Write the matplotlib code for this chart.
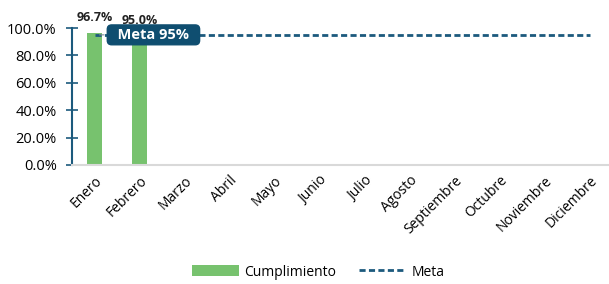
import matplotlib
matplotlib.use("Agg")
import matplotlib.pyplot as plt
import numpy as np
from matplotlib.ticker import PercentFormatter

months = ["Enero", "Febrero", "Marzo", "Abril", "Mayo", "Junio", "Julio",
          "Agosto", "Septiembre", "Octubre", "Noviembre", "Diciembre"]
cumplimiento = [0.967, 0.950, None, None, None, None, None, None, None, None, None, None]
meta = [0.95] * 12
yticks = [0.0, 0.2, 0.4, 0.6, 0.8, 1.0]

green = "#77C26E"
navy = "#1C5A7D"

plt.rcParams["font.family"] = ["Open Sans", "DejaVu Sans"]

fig = plt.figure(figsize=(6.09, 2.84), dpi=100)
ax = fig.add_axes([72 / 609, 1 - 165 / 284, 540 / 609, 137 / 284])

x = np.arange(len(months))
vals = np.array([np.nan if v is None else v for v in cumplimiento])
bars = ax.bar(x, vals, width=0.33, color=green, label="Cumplimiento", zorder=2)
line, = ax.plot(x, meta, color=navy, lw=2, ls=(0, (2.2, 1.2)), label="Meta", zorder=3)

for xi, v in zip(x, vals):
    if not np.isnan(v):
        ax.annotate(f"{v * 100:.1f}%", (xi, v), xytext=(0, 6), textcoords="offset points",
                    ha="center", va="bottom", fontsize=9, fontweight="bold", color="#222222")

# meta callout
ax.annotate("  Meta 95%  ", xy=(0.05, meta[0]), xytext=(1.31, meta[0]), textcoords="data",
            ha="center", va="center", fontsize=10.5, fontweight="bold", color="white",
            bbox=dict(boxstyle="round,pad=0.2,rounding_size=0.3", fc="#0F4E70", ec="#0F4E70"),
            arrowprops=dict(arrowstyle="-", color="#7F8C95", lw=0.8), zorder=5)

ax.set_xlim(-0.5, 11.5)
ax.set_ylim(0, 1.0)
ax.set_yticks(yticks)
ax.yaxis.set_major_formatter(PercentFormatter(1.0, decimals=1))
ax.set_xticks(x)
ax.set_xticklabels(months, rotation=45, ha="right", rotation_mode="anchor", fontsize=10)
ax.tick_params(axis="x", length=0, pad=6)
ax.tick_params(axis="y", direction="inout", length=8, width=1.2, color=navy, labelsize=10.5, pad=7)

for s in ["top", "right"]:
    ax.spines[s].set_visible(False)
ax.spines["left"].set_color(navy)
ax.spines["left"].set_linewidth(1.5)
ax.spines["bottom"].set_color("#D9D9D9")
ax.spines["bottom"].set_linewidth(1.5)

fig.legend([bars, line], ["Cumplimiento", "Meta"], loc="center",
           bbox_to_anchor=(318 / 609, 1 - 272 / 284), ncol=2, frameon=False,
           fontsize=10, handlelength=3.4, handleheight=0.8, columnspacing=1.6, handletextpad=0.4)

fig.savefig("out.png", dpi=100)
